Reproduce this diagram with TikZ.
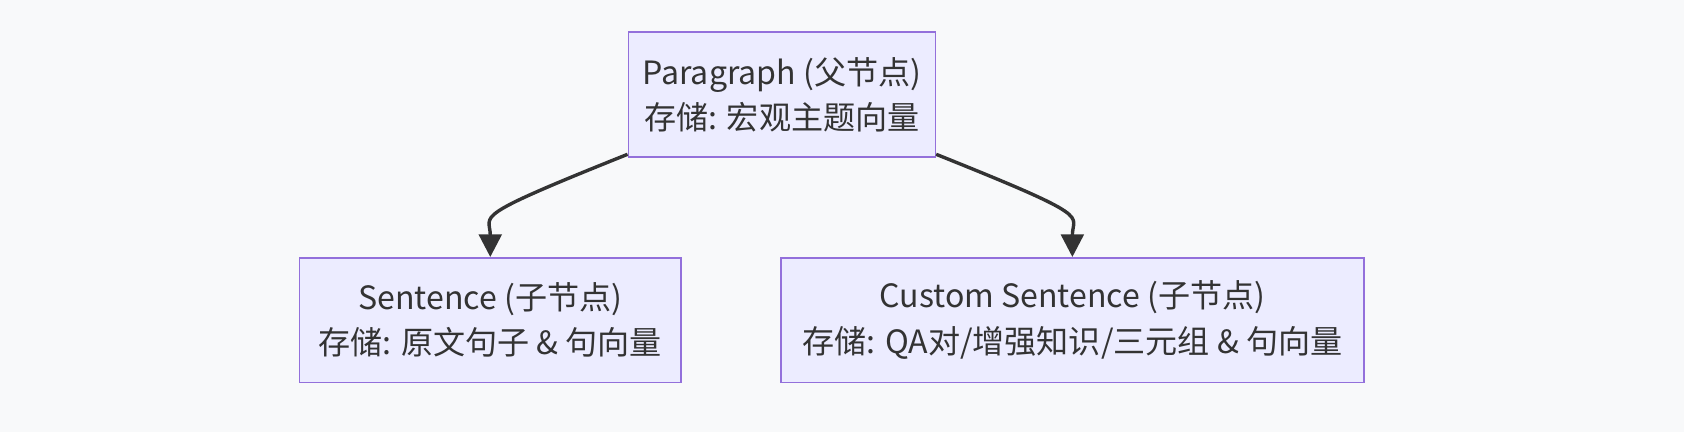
\documentclass[tikz,border=0pt]{standalone}
\usepackage{fontspec}
\setmainfont{Noto Sans CJK SC}
\usetikzlibrary{arrows.meta,positioning}
\definecolor{bg}{HTML}{F8F9FA}
\definecolor{boxfill}{HTML}{ECECFF}
\definecolor{boxline}{HTML}{9370DB}
\definecolor{edge}{HTML}{333333}
\tikzset{box/.style={rectangle, fill=boxfill, draw=boxline, thick, align=center, inner sep=0pt, text=edge, font=\fontsize{17}{24}\selectfont}}
\tikzset{link/.style={edge, line width=1.8pt, -{Triangle[length=12pt,width=12pt]}}}
\begin{document}
\begin{tikzpicture}[x=0.02cm,y=-0.02cm]
	\fill[bg] (0,0) rectangle (1568,402);
	\node[box, minimum width=5.72cm, minimum height=2.32cm] (para) at (728,88) {Paragraph (父节点)\\存储: 宏观主题向量};
	\node[box, minimum width=7.10cm, minimum height=2.32cm] (sent) at (456.5,298) {Sentence (子节点)\\存储: 原文句子 \& 句向量};
	\node[box, minimum width=10.86cm, minimum height=2.32cm] (cust) at (998.5,298) {Custom Sentence (子节点)\\存储: QA对/增强知识/三元组 \& 句向量};
	\draw[link] (para.south west) ++(0,-3) .. controls +(-150,60) and +(0,-40) .. (sent.north);
	\draw[link] (para.south east) ++(0,-3) .. controls +(150,60) and +(0,-40) .. (cust.north);
\end{tikzpicture}
\end{document}
